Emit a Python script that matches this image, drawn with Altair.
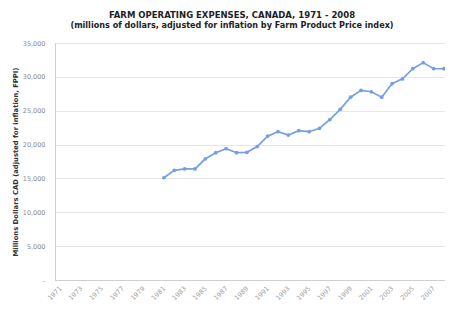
import altair as alt
import pandas as pd

years = list(range(1981, 2009))
expenses = [15100, 16200, 16400, 16400, 17900, 18800, 19400, 18800, 18850, 19700,
            21250, 21900, 21400, 22050, 21900, 22400, 23700, 25200, 27000, 28000,
            27800, 27000, 29000, 29700, 31200, 32100, 31200, 31200]
tick_years = list(range(1971, 2009, 2))
y_ticks = [0, 5000, 10000, 15000, 20000, 25000, 30000, 35000]

df = pd.DataFrame({"year": years, "value": expenses})

FONT = "DejaVu Sans"
BLUE = "#74a0e2"

x = alt.X("year:Q",
          scale=alt.Scale(domain=[1970.5, 2008.1], nice=False, zero=False),
          axis=alt.Axis(values=tick_years, format="d", labelAngle=-45, labelAlign="right",
                        labelBaseline="middle", labelFontSize=6.5, labelColor="#a0a0a0",
                        labelFont=FONT, grid=False, ticks=False, domainColor="#cfcfcf",
                        labelPadding=7, title=None))
y = alt.Y("value:Q",
          scale=alt.Scale(domain=[0, 35000], nice=False),
          axis=alt.Axis(values=y_ticks, labelExpr="datum.value == 0 ? '-' : format(datum.value, ',')",
                        labelFontSize=6.5, labelColor="#8a8a8a", labelFont=FONT,
                        gridColor="#e6e6e6", ticks=False, domainColor="#cfcfcf", labelPadding=10,
                        title="Millions Dollars CAD (adjusted for inflation, FPPI)",
                        titleFont=FONT, titleFontSize=6.8, titleFontWeight="bold",
                        titleColor="#333333", titlePadding=4))

line = alt.Chart(df).mark_line(color=BLUE, strokeWidth=1.7).encode(x=x, y=y)
pts = alt.Chart(df).mark_point(color=BLUE, filled=True, size=14, opacity=1).encode(x=x, y=y)

chart = (line + pts).properties(
    width=390, height=237,
    autosize=alt.AutoSizeParams(type="none"),
    padding={"left": 47, "top": 35, "right": 0, "bottom": 22},
    title=alt.Title(
        text="FARM OPERATING EXPENSES, CANADA, 1971 - 2008",
        subtitle="(millions of dollars, adjusted for inflation by Farm Product Price index)",
        font=FONT, fontSize=8.5, fontWeight="bold", color="#222222",
        subtitleFont=FONT, subtitleFontSize=8.1, subtitleFontWeight="bold", subtitleColor="#222222",
        subtitlePadding=2, anchor="middle", dx=-18, offset=10),
).configure_view(stroke=None).configure(background="white")

chart.save("out.html", embed_options={"renderer": "svg", "actions": False})
